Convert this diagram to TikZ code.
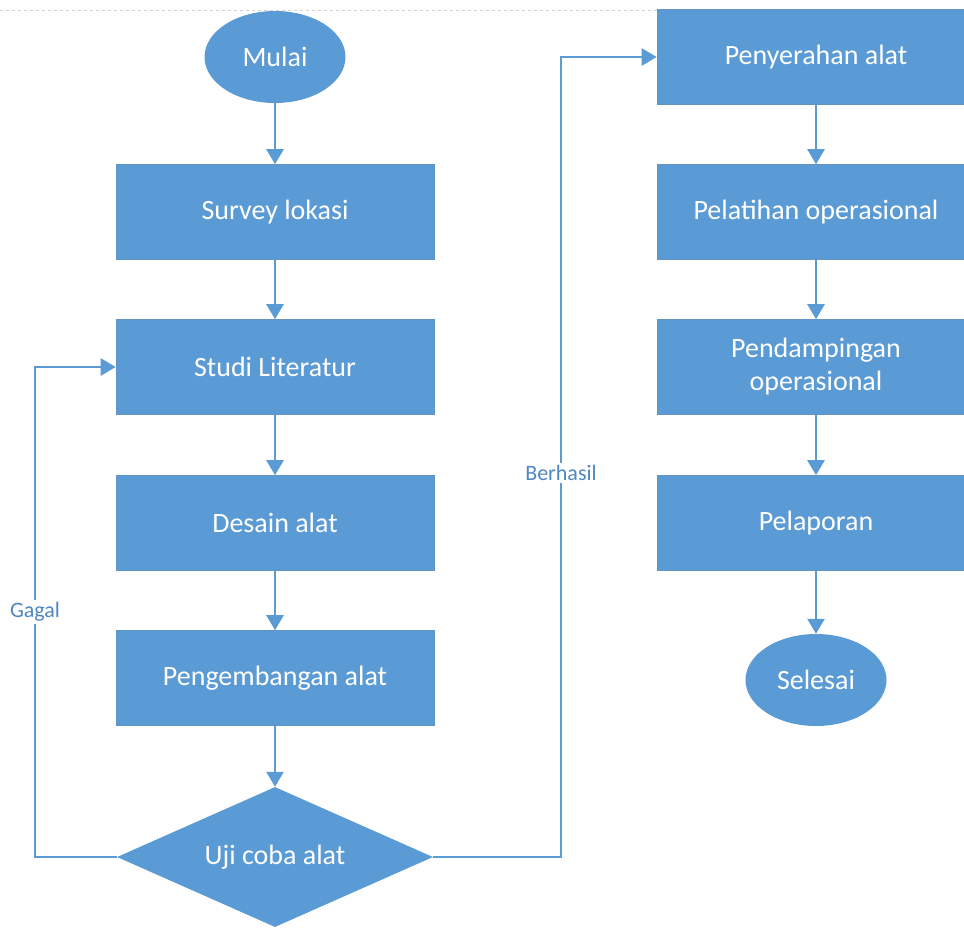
\documentclass[tikz,border=0pt]{standalone}
\usepackage{fontspec}
\setmainfont{Carlito}
\usetikzlibrary{shapes.geometric,arrows.meta}
\definecolor{officeblue}{HTML}{5B9BD5}
\definecolor{labelblue}{HTML}{4F87C2}
\tikzset{
  prosesbox/.style={rectangle, fill=officeblue, draw=officeblue!80!gray, line width=0.6pt,
    minimum width=318pt, minimum height=95pt, text=white, align=center,
    font=\fontsize{28}{32}\selectfont},
  terminal/.style={ellipse, fill=officeblue, text=white, minimum width=141pt,
    minimum height=92pt, inner sep=0pt, font=\fontsize{28}{32}\selectfont},
  keputusan/.style={diamond, aspect=2.26, fill=officeblue, text=white, minimum width=316pt,
    minimum height=140pt, inner sep=0pt, font=\fontsize{28}{32}\selectfont},
  alur/.style={draw=officeblue, line width=2.6pt, -{Triangle[length=15pt,width=17pt]}},
  labelalur/.style={fill=white, text=labelblue, inner sep=2pt,
    font=\fontsize{22}{24}\selectfont}
}
\begin{document}
\begin{tikzpicture}[x=1pt, y=-1pt]
  \clip (0,0) rectangle (964,927);
  \useasboundingbox (0,0) rectangle (964,927);
  % batas halaman
  \draw[gray!35, dashed, line width=0.6pt] (0,10) -- (964,10);

  % Kolom kiri
  \node[terminal] (mulai) at (275,57) {Mulai};
  \node[prosesbox] (survey) at (275,212) {Survey lokasi};
  \node[prosesbox] (studi) at (275,367) {Studi Literatur};
  \node[prosesbox] (desain) at (275,523) {Desain alat};
  \node[prosesbox] (pengembangan) at (275,678) {Pengembangan alat};
  \node[keputusan] (uji) at (275,857) {Uji coba alat};

  % Kolom kanan
  \node[prosesbox] (penyerahan) at (816,57) {Penyerahan alat};
  \node[prosesbox] (pelatihan) at (816,212) {Pelatihan operasional};
  \node[prosesbox, font=\fontsize{28}{33}\selectfont] (pendampingan) at (816,367) {Pendampingan\\operasional};
  \node[prosesbox] (pelaporan) at (816,523) {Pelaporan};
  \node[terminal] (selesai) at (816,680) {Selesai};

  % Alur utama
  \draw[alur] (mulai) -- (survey);
  \draw[alur] (survey) -- (studi);
  \draw[alur] (studi) -- (desain);
  \draw[alur] (desain) -- (pengembangan);
  \draw[alur] (pengembangan) -- (uji);
  \draw[alur] (penyerahan) -- (pelatihan);
  \draw[alur] (pelatihan) -- (pendampingan);
  \draw[alur] (pendampingan) -- (pelaporan);
  \draw[alur] (pelaporan) -- (selesai);

  % Umpan balik
  \coordinate (gagal) at (35,857);
  \coordinate (berhasil) at (561,857);
  \draw[alur] (uji.west) -- (gagal) |- node[labelalur, pos=0.25] {Gagal} (studi.west);
  \draw[alur] (uji.east) -- (berhasil) |- node[labelalur, pos=0.24] {Berhasil} (penyerahan.west);
\end{tikzpicture}
\end{document}
